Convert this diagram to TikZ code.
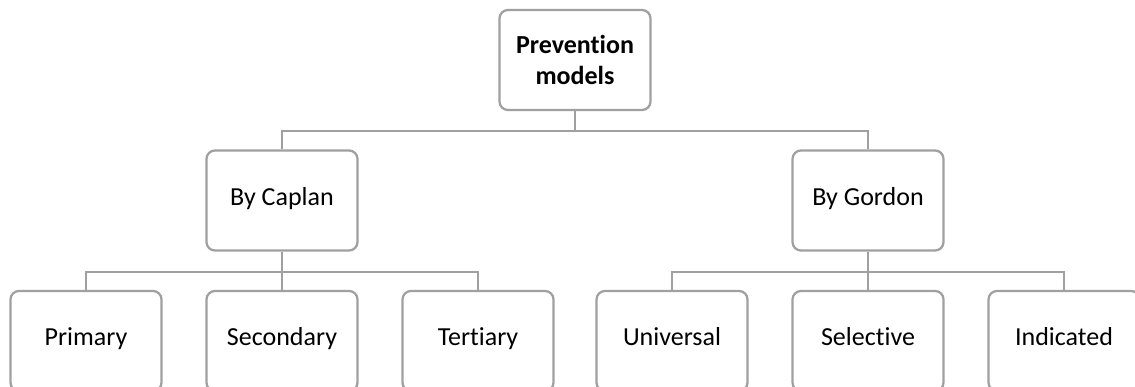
\documentclass[tikz,border=0pt]{standalone}
\usepackage{fontspec}
\setmainfont[Ligatures=NoCommon]{Carlito}
\definecolor{boxgray}{RGB}{160,160,160}
\usetikzlibrary{positioning}

\begin{document}
\begin{tikzpicture}[
    model/.style={rectangle, draw=boxgray, line width=1.6pt, fill=white, rounded corners=6pt, minimum width=3.775cm, minimum height=2.5cm, text height=1.9ex, text depth=.5ex, font=\fontsize{18.5}{22}\selectfont, align=center},
    link/.style={draw=boxgray, line width=1.6pt}
]
    \useasboundingbox (0,0) rectangle (28.375,-9.675);

    % Root
    \node[model, text height=, text depth=, font=\fontsize{18.5}{22}\selectfont\bfseries] (root) at (14.375,-1.5) {Prevention\\models};

    % Authors
    \node[model] (caplan) at (7.05,-5.0125) {By Caplan};
    \node[model] (gordon) at (21.7,-5.0125) {By Gordon};

    % Levels
    \node[model] (primary) at (2.15,-8.525) {Primary};
    \node[model] (secondary) at (7.05,-8.525) {Secondary};
    \node[model] (tertiary) at (11.95,-8.525) {Tertiary};
    \node[model] (universal) at (16.8,-8.525) {Universal};
    \node[model] (selective) at (21.7,-8.525) {Selective};
    \node[model] (indicated) at (26.6,-8.525) {Indicated};

    % Connectors
    \foreach \a in {caplan,gordon} \draw[link] (root.south) -- ++(0,-0.5) -| (\a.north);
    \foreach \l in {primary,secondary,tertiary} \draw[link] (caplan.south) -- ++(0,-0.5) -| (\l.north);
    \foreach \l in {universal,selective,indicated} \draw[link] (gordon.south) -- ++(0,-0.5) -| (\l.north);
\end{tikzpicture}
\end{document}
